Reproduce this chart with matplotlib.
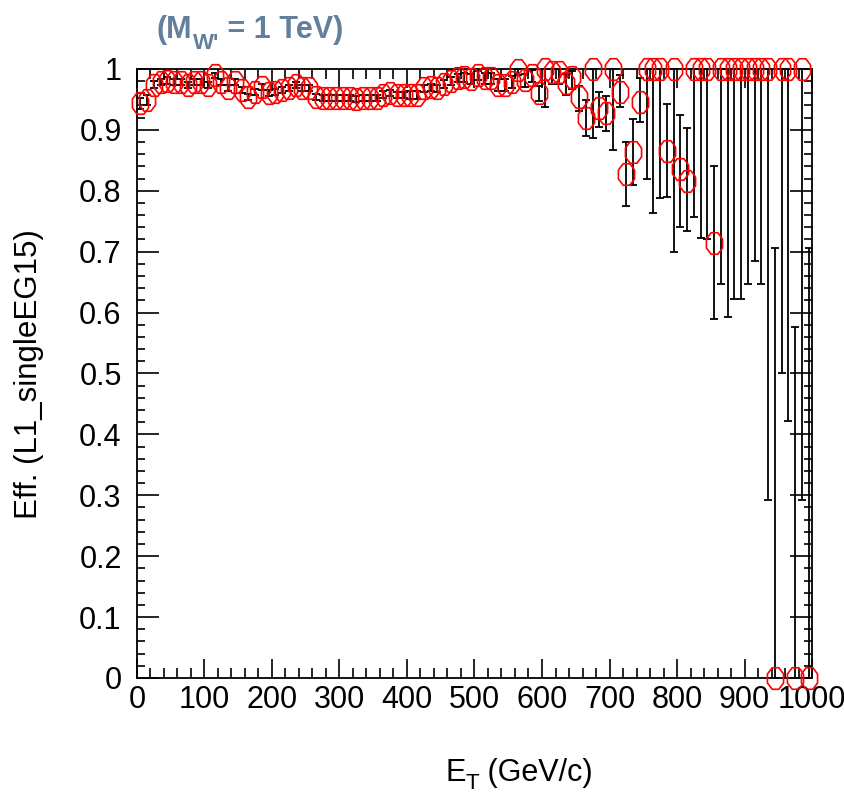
import numpy as np
import matplotlib
matplotlib.use("Agg")
import matplotlib.pyplot as plt
from matplotlib.ticker import MultipleLocator, FuncFormatter

# histogram binning: 100 bins of 10 GeV between 0 and 1000
n_bins = 100
et_min, et_max = 0.0, 1000.0
et = et_min + (np.arange(n_bins) + 0.5) * (et_max - et_min) / n_bins

eff = [
    0.944, 0.949, 0.974, 0.979, 0.981, 0.979, 0.979, 0.974, 0.978, 0.979,
    0.974, 0.990, 0.979, 0.969, 0.979, 0.965, 0.954, 0.962, 0.970, 0.960,
    0.962, 0.965, 0.968, 0.974, 0.968, 0.968, 0.954, 0.952, 0.952, 0.952,
    0.953, 0.952, 0.951, 0.952, 0.953, 0.952, 0.958, 0.960, 0.957, 0.957,
    0.957, 0.957, 0.968, 0.970, 0.968, 0.975, 0.980, 0.985, 0.987, 0.983,
    0.990, 0.985, 0.985, 0.974, 0.974, 0.979, 0.998, 0.982, 0.990, 0.960,
    1.000, 0.995, 0.995, 0.977, 0.987, 0.954, 0.920, 1.000, 0.936, 0.928,
    1.000, 0.962, 0.828, 0.864, 0.946, 1.000, 1.000, 1.000, 0.865, 1.000,
    0.836, 0.816, 1.000, 1.000, 1.000, 0.715, 1.000, 1.000, 1.000, 1.000,
    1.000, 1.000, 1.000, 1.000, 0.000, 1.000, 1.000, 0.000, 1.000, 0.000,
]
err_lo = [
    0.010, 0.008, 0.006, 0.005, 0.005, 0.005, 0.005, 0.005, 0.005, 0.005,
    0.005, 0.005, 0.005, 0.005, 0.005, 0.005, 0.005, 0.005, 0.005, 0.005,
    0.005, 0.005, 0.005, 0.005, 0.005, 0.005, 0.005, 0.005, 0.005, 0.005,
    0.005, 0.005, 0.005, 0.005, 0.005, 0.005, 0.005, 0.005, 0.005, 0.005,
    0.006, 0.006, 0.006, 0.006, 0.006, 0.007, 0.007, 0.007, 0.008, 0.008,
    0.008, 0.009, 0.009, 0.010, 0.010, 0.010, 0.008, 0.012, 0.012, 0.012,
    0.062, 0.020, 0.020, 0.020, 0.020, 0.023, 0.030, 0.113, 0.031, 0.030,
    0.133, 0.025, 0.053, 0.054, 0.033, 0.180, 0.236, 0.212, 0.075, 0.300,
    0.096, 0.082, 0.243, 0.278, 0.280, 0.125, 0.353, 0.407, 0.378, 0.378,
    0.353, 0.315, 0.353, 0.708, 0.000, 0.500, 0.578, 0.000, 0.708, 0.000,
]
err_hi = [
    0.009, 0.008, 0.006, 0.005, 0.005, 0.005, 0.005, 0.005, 0.005, 0.005,
    0.005, 0.004, 0.005, 0.005, 0.005, 0.005, 0.005, 0.005, 0.005, 0.005,
    0.005, 0.005, 0.005, 0.005, 0.005, 0.005, 0.005, 0.005, 0.005, 0.005,
    0.005, 0.005, 0.005, 0.005, 0.005, 0.005, 0.005, 0.005, 0.005, 0.005,
    0.006, 0.006, 0.006, 0.006, 0.006, 0.007, 0.007, 0.007, 0.007, 0.008,
    0.006, 0.008, 0.008, 0.010, 0.010, 0.010, 0.002, 0.010, 0.008, 0.012,
    0.000, 0.005, 0.005, 0.015, 0.010, 0.018, 0.029, 0.000, 0.026, 0.028,
    0.000, 0.028, 0.052, 0.054, 0.039, 0.000, 0.000, 0.000, 0.078, 0.000,
    0.089, 0.087, 0.000, 0.000, 0.000, 0.125, 0.000, 0.000, 0.000, 0.000,
    0.000, 0.000, 0.000, 0.000, 0.706, 0.000, 0.000, 0.577, 0.000, 0.706,
]

narrow = ["Liberation Sans Narrow", "Liberation Sans", "DejaVu Sans"]
plt.rcParams["font.family"] = narrow

fig = plt.figure(figsize=(8.44, 7.98), dpi=100)
ax = fig.add_axes([0.1623, 0.1504, 0.7998, 0.7632])

# ROOT-like open octagon, squeezed horizontally like the reference
ang = np.deg2rad(22.5 + 45 * np.arange(9))
octagon = np.column_stack([0.75 * np.cos(ang), np.sin(ang)])

ax.errorbar(et, eff, yerr=[err_lo, err_hi], fmt="none", ecolor="black",
            elinewidth=1.3, capsize=3, capthick=1.3, clip_on=False, zorder=3)
ax.plot(et, eff, linestyle="none", marker=octagon, markersize=15.5,
        markerfacecolor="none", markeredgecolor="red", markeredgewidth=1.2,
        clip_on=False, zorder=4)

ax.set_xlim(et_min, et_max)
ax.set_ylim(0, 1)
ax.xaxis.set_major_locator(MultipleLocator(100))
ax.xaxis.set_minor_locator(MultipleLocator(20))
ax.yaxis.set_major_locator(MultipleLocator(0.1))
ax.yaxis.set_minor_locator(MultipleLocator(0.02))
ax.yaxis.set_major_formatter(FuncFormatter(
    lambda v, _: "0" if abs(v) < 1e-9 else ("1" if abs(v - 1) < 1e-9 else f"{v:.1f}")))
ax.tick_params(which="both", direction="in", top=True, right=True,
               width=1.2, colors="black", labelsize=22)
ax.tick_params(axis="x", which="major", length=13.5, pad=5)
ax.tick_params(axis="x", which="minor", length=7)
ax.tick_params(axis="y", which="major", length=15.5, pad=11)
ax.tick_params(axis="y", which="minor", length=6)
for s in ax.spines.values():
    s.set_linewidth(1.3)

renderer = fig.canvas.get_renderer()


def rich_text(x, y, parts, **kw):
    # parts: (text, size, vertical offset in points); laid out left to right
    for txt, size, dy in parts:
        t = fig.text(x, y, txt, fontsize=size, ha="left", va="baseline", **kw)
        t.set_y(y + dy / 72 / fig.get_figheight())
        bb = t.get_window_extent(renderer)
        x = bb.x1 / fig.bbox.width


title_color = "#62809b"
rich_text(157 / 844, 1 - 38 / 798,
          [("(M", 22, 0), ("W'", 16, -8), (" = 1 TeV)", 22, 0)],
          color=title_color, fontweight="bold")
rich_text(445 / 844, 1 - 781 / 798,
          [("E", 22, 0), ("T", 16, -6), (" (GeV/c)", 22, 0)], color="black")
fig.text(0.034, 1 - 374 / 798, "Eff. (L1_singleEG15)", rotation=90,
         ha="center", va="center", fontsize=22.5,
         family=["Liberation Sans", "DejaVu Sans"])

fig.savefig("out.png", dpi=100)
